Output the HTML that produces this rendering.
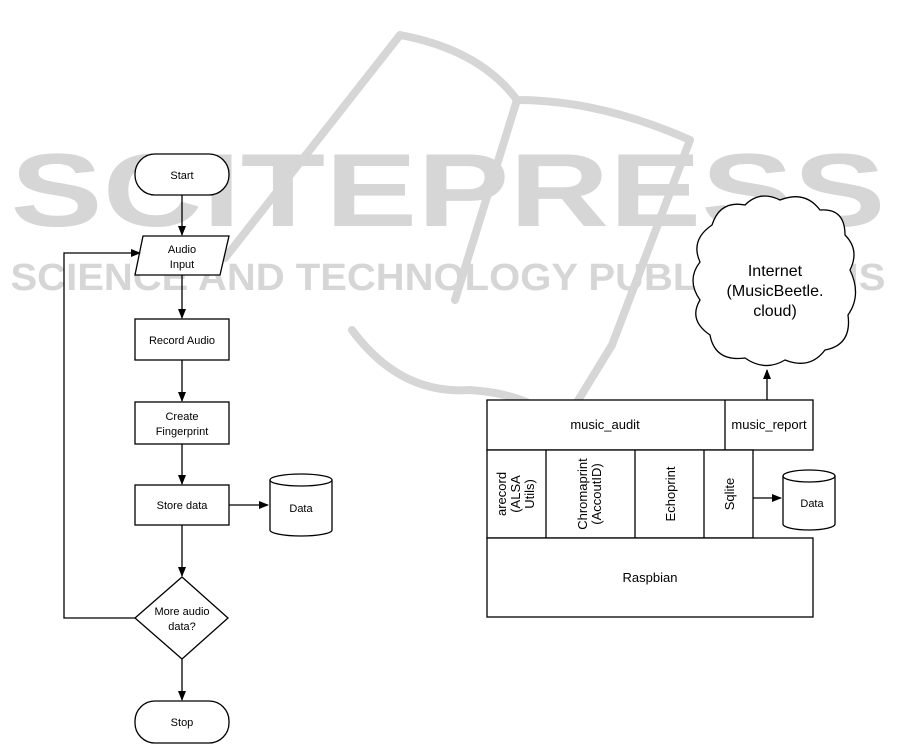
<!DOCTYPE html>
<html><head><meta charset="utf-8"><style>
html,body{margin:0;padding:0;background:#fff;}
svg{display:block;}
</style></head><body>
<svg width="901" height="752" viewBox="0 0 901 752" xmlns="http://www.w3.org/2000/svg" font-family="Liberation Sans, Arial, sans-serif">
<defs>
<marker id="ar" markerWidth="10" markerHeight="8" refX="9" refY="4" orient="auto" markerUnits="userSpaceOnUse">
<path d="M0,0 L10,4 L0,8 z" fill="#000"/>
</marker>
</defs>
<!-- watermark -->
<g fill="none" stroke="#d6d6d6" stroke-width="8" stroke-linejoin="round" stroke-linecap="round">
<path d="M225,258 L400,35 Q480,50 517,100 Q600,100 690,140 L612,345"/>
<path d="M517,100 L455,300"/>
<path d="M352,330 Q400,395 470,390 Q540,395 560,430 L612,345"/>
</g>
<g fill="#d6d6d6" font-weight="bold">
<text x="448" y="226" font-size="104" text-anchor="middle" textLength="875" lengthAdjust="spacingAndGlyphs">SCITEPRESS</text>
<text x="448" y="290" font-size="38" text-anchor="middle" textLength="875" lengthAdjust="spacingAndGlyphs">SCIENCE AND TECHNOLOGY PUBLICATIONS</text>
</g>
<g fill="#fff" stroke="#000" stroke-width="1.3">
<!-- left flowchart -->
<rect x="135" y="154" width="94" height="41" rx="20"/>
<polygon points="143,236 229,236 220,275 135,275"/>
<rect x="135" y="319" width="94" height="41"/>
<rect x="135" y="402" width="94" height="42"/>
<rect x="135" y="485" width="94" height="40"/>
<path d="M270,480 L270,530 A31,6 0 0 0 332,530 L332,480"/>
<ellipse cx="301" cy="480" rx="31" ry="6"/>
<polygon points="182,577 228,618 182,659 135,618"/>
<rect x="135" y="701" width="94" height="42" rx="20"/>
</g>
<g stroke="#000" stroke-width="1.3" fill="none" marker-end="url(#ar)">
<line x1="182" y1="195" x2="182" y2="235"/>
<line x1="182" y1="275" x2="182" y2="318"/>
<line x1="182" y1="360" x2="182" y2="401"/>
<line x1="182" y1="444" x2="182" y2="484"/>
<line x1="229" y1="505" x2="268" y2="505"/>
<line x1="182" y1="525" x2="182" y2="576"/>
<line x1="182" y1="659" x2="182" y2="700"/>
<polyline points="135,618 64,618 64,253 140,253"/>
<line x1="767" y1="400" x2="767" y2="370"/>
<line x1="753" y1="498" x2="781" y2="498"/>
</g>
<g font-size="11" text-anchor="middle" fill="#000">
<text x="182" y="179">Start</text>
<text x="182" y="253">Audio</text>
<text x="182" y="268">Input</text>
<text x="182" y="344">Record Audio</text>
<text x="182" y="420">Create</text>
<text x="182" y="435">Fingerprint</text>
<text x="182" y="509">Store data</text>
<text x="301" y="512">Data</text>
<text x="182" y="615">More audio</text>
<text x="182" y="630">data?</text>
<text x="182" y="726">Stop</text>
</g>
<!-- cloud -->
<path d="M712,225 Q720,200 745,205 Q760,190 780,200 Q805,190 820,210 Q845,208 845,235 Q860,250 850,270 Q862,295 848,315 Q852,345 825,350 Q810,370 785,360 Q765,372 745,358 Q715,362 710,335 Q688,320 700,300 Q686,280 700,262 Q690,240 712,225 Z" fill="#fff" stroke="#000" stroke-width="1.3"/>
<g font-size="16" text-anchor="middle" fill="#000">
<text x="775" y="276">Internet</text>
<text x="775" y="296">(MusicBeetle.</text>
<text x="775" y="316">cloud)</text>
</g>
<!-- right stack -->
<g fill="#fff" stroke="#000" stroke-width="1.3">
<rect x="487" y="400" width="326" height="50"/>
<line x1="725" y1="400" x2="725" y2="450"/>
<rect x="487" y="450" width="266" height="88"/>
<line x1="546" y1="450" x2="546" y2="538"/>
<line x1="635" y1="450" x2="635" y2="538"/>
<line x1="704" y1="450" x2="704" y2="538"/>
<rect x="487" y="538" width="326" height="79"/>
<path d="M783,476 L783,524 A26,6 0 0 0 835,524 L835,476"/>
<ellipse cx="809" cy="476" rx="26" ry="6"/>
</g>
<g font-size="13" text-anchor="middle" fill="#000">
<text x="605" y="429">music_audit</text>
<text x="769" y="429">music_report</text>
<text x="650" y="582">Raspbian</text>
<text x="812" y="507" font-size="11">Data</text>
<g transform="translate(516,494) rotate(-90)">
<text x="0" y="-10">arecord</text><text x="0" y="4">(ALSA</text><text x="0" y="18">Utils)</text>
</g>
<g transform="translate(590,494) rotate(-90)">
<text x="0" y="-3">Chromaprint</text><text x="0" y="11">(AccoutID)</text>
</g>
<g transform="translate(670,494) rotate(-90)"><text x="0" y="5">Echoprint</text></g>
<g transform="translate(729,494) rotate(-90)"><text x="0" y="5">Sqlite</text></g>
</g>
</svg>
</body></html>
